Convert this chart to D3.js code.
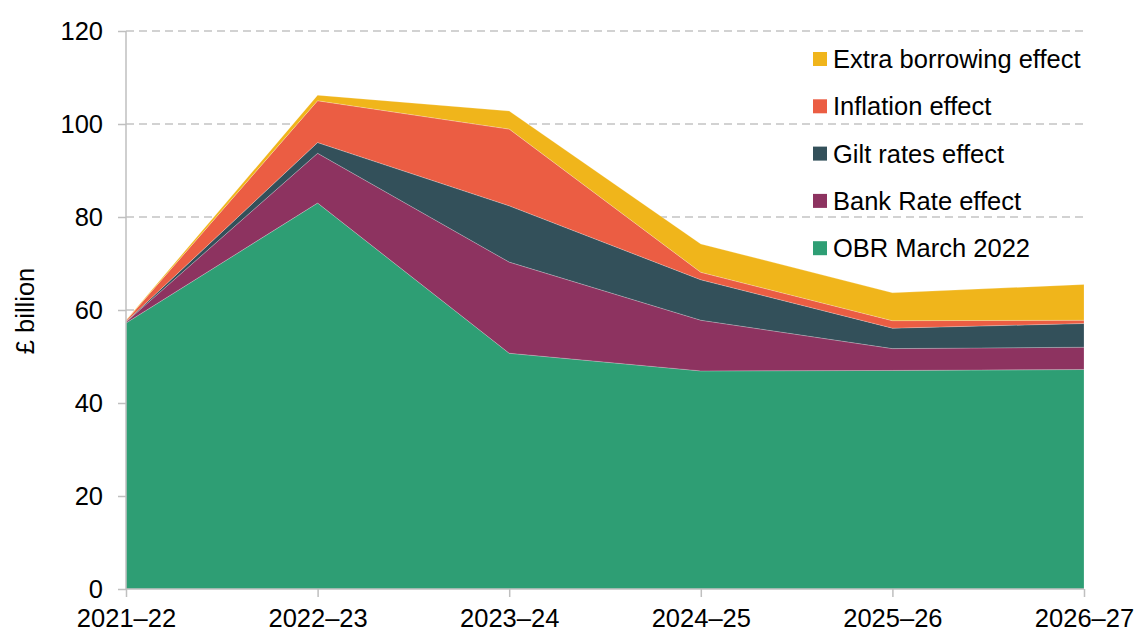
<!DOCTYPE html>
<html>
<head>
<meta charset="utf-8">
<style>
    body { margin: 0; background: #fff; }
    svg { font-family: 'Liberation Sans', Arial, sans-serif; }
</style>
</head>
<body>
<svg width="1138" height="632"></svg>
<script src="https://d3js.org/d3.v7.min.js"></script>
<script>
    // data (£ billion)
    let years = ["2021–22", "2022–23", "2023–24", "2024–25", "2025–26", "2026–27"];
    let obrMarch = [57.2, 83.0, 50.7, 46.9, 47.0, 47.2];
    let bankRate = [0.2, 10.7, 19.6, 10.9, 4.7, 4.8];
    let giltRates = [0.1, 2.3, 12.1, 8.7, 4.4, 5.1];
    let inflation = [0.2, 9.0, 16.5, 1.6, 1.6, 0.7];
    let extraBorrowing = [0.1, 1.2, 3.9, 6.1, 6.0, 7.7];
    let seriesNames = ["OBR March 2022", "Bank Rate effect", "Gilt rates effect", "Inflation effect", "Extra borrowing effect"];
    let yTicks = [0, 20, 40, 60, 80, 100, 120];

    let colors = ["#2e9e74", "#8d3360", "#33505a", "#eb5d43", "#f0b51b"];
    let fontSize = "25.5px";

    let rows = years.map((yr, i) => ({
        year: yr,
        "OBR March 2022": obrMarch[i],
        "Bank Rate effect": bankRate[i],
        "Gilt rates effect": giltRates[i],
        "Inflation effect": inflation[i],
        "Extra borrowing effect": extraBorrowing[i]
    }));

    let svg = d3.select("svg");
    let plotLeft = 126, plotRight = 1084, plotTop = 31, plotBottom = 589;

    let x = d3.scalePoint().domain(years).range([plotLeft, plotRight]);
    let y = d3.scaleLinear().domain([0, 120]).range([plotBottom, plotTop]);

    // gridlines
    svg.append("g")
        .selectAll("line")
        .data(yTicks.filter(d => d > 0))
        .join("line")
        .attr("x1", plotLeft).attr("x2", plotRight)
        .attr("y1", d => y(d)).attr("y2", d => y(d))
        .style("stroke", "#c4c4c4")
        .style("stroke-width", 1.5)
        .style("stroke-dasharray", "8,5");

    let stack = d3.stack().keys(seriesNames);
    let layers = stack(rows);

    let area = d3.area()
        .x(d => x(d.data.year))
        .y0(d => y(d[0]))
        .y1(d => y(d[1]));

    svg.append("g")
        .selectAll("path")
        .data(layers)
        .join("path")
        .attr("d", area)
        .style("fill", (d, i) => colors[i])
        .style("stroke", "rgba(255,255,255,0.35)")
        .style("stroke-width", 0.6);

    // y axis
    let yAxis = svg.append("g")
        .attr("transform", `translate(${plotLeft},0)`)
        .call(d3.axisLeft(y).tickValues(yTicks).tickSize(8).tickPadding(15));
    yAxis.selectAll("line, path").style("stroke", "#bfbfbf").style("stroke-width", 1.5);
    yAxis.select(".domain").attr("d", `M0,${plotTop}V${plotBottom}`);
    yAxis.selectAll("text")
        .style("font-size", fontSize)
        .style("fill", "#000")
        .style("font-family", "'Liberation Sans', Arial, sans-serif");

    // x axis
    let xAxis = svg.append("g")
        .attr("transform", `translate(0,${plotBottom})`)
        .call(d3.axisBottom(x).tickSize(8).tickPadding(12));
    xAxis.selectAll("line, path").style("stroke", "#bfbfbf").style("stroke-width", 1.5);
    xAxis.select(".domain").attr("d", `M${plotLeft},0H${plotRight}`);
    xAxis.selectAll("text")
        .style("font-size", fontSize)
        .style("fill", "#000")
        .style("font-family", "'Liberation Sans', Arial, sans-serif");

    // y label
    svg.append("text")
        .attr("transform", "translate(34,311) rotate(-90)")
        .attr("text-anchor", "middle")
        .style("font-size", fontSize)
        .text("£ billion");

    // legend (top item = top layer)
    let legendItems = seriesNames.map((n, i) => ({ name: n, color: colors[i] })).reverse();
    let legend = svg.append("g")
        .selectAll("g")
        .data(legendItems)
        .join("g")
        .attr("transform", (d, i) => `translate(813,${59 + i * 47.3})`);
    legend.append("rect")
        .attr("x", 0).attr("y", -7)
        .attr("width", 14).attr("height", 14)
        .style("fill", d => d.color);
    legend.append("text")
        .attr("x", 20).attr("y", 9)
        .style("font-size", fontSize)
        .text(d => d.name);
</script>
</body>
</html>
